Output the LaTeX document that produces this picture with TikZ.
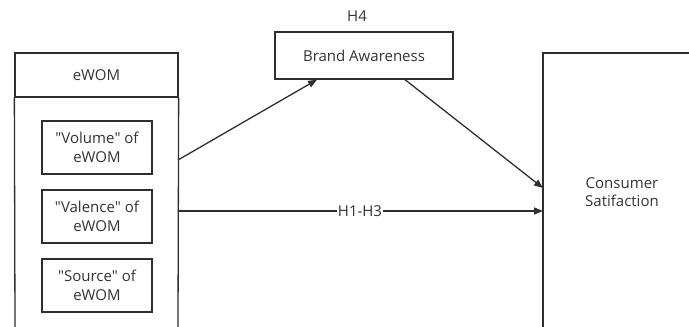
\documentclass[tikz,border=0pt]{standalone}
\usepackage{fontspec}
\setmainfont{Open Sans}
\usetikzlibrary{arrows.meta}
\definecolor{ink}{HTML}{2E2E2E}
\definecolor{txt}{HTML}{333333}
\tikzset{
  edge/.style={draw=ink, line width=1.3pt},
  box/.style={draw=ink, line width=1.3pt, rectangle, inner sep=0pt, align=center, text=txt, font=\fontsize{15}{18.5}\selectfont},
  lbl/.style={text=txt, font=\fontsize{15}{18.5}\selectfont, inner sep=1pt},
  conn/.style={draw=ink, line width=1.3pt, -{Triangle[length=9pt,width=7pt]}},
}
\newcommand{\qt}[1]{\textquotedbl#1\textquotedbl}
\begin{document}
\begin{tikzpicture}[x=1pt,y=-1pt]
  \useasboundingbox (0,0) rectangle (689,327);
  % eWOM group: header and open-bottomed frame
  \node[box, minimum width=163pt, minimum height=44pt] (ewom) at (96.5,75) {eWOM};
  \draw[edge] (15,327) -- (ewom.south west);
  \draw[edge] (178,327) -- (ewom.south east);
  \node[box, minimum width=110pt, minimum height=53pt] (vol) at (97,147.5) {\qt{Volume} of\\eWOM};
  \node[box, minimum width=110pt, minimum height=53pt] (val) at (97,216.5) {\qt{Valence} of\\eWOM};
  \node[box, minimum width=110pt, minimum height=53pt] (src) at (97,285.5) {\qt{Source} of\\eWOM};
  % Brand awareness
  \node[box, minimum width=178pt, minimum height=47pt] (brand) at (364,55.5) {Brand Awareness};
  \node[lbl] (h4) at (357,16) {H4};
  % Consumer satisfaction, open frame
  \coordinate (csb) at (543,327);
  \coordinate (cst) at (543,53);
  \coordinate (csr) at (689,53);
  \draw[edge] (csb) -- (cst) -- (csr);
  \node[lbl, align=center] (cs) at (622,192) {Consumer\\Satifaction};
  % connectors
  \coordinate (e1) at (178,160);
  \coordinate (e2) at (178,211);
  \coordinate (c1) at (543,188);
  \coordinate (c2) at (543,211);
  \draw[conn] (e1) -- (brand.south west -| 317,0);
  \draw[conn] (brand.south east -| 405,0) -- (c1);
  \draw[conn] (e2) -- (c2);
  \node[lbl, fill=white] (h13) at (360,211) {H1-H3};
\end{tikzpicture}
\end{document}
